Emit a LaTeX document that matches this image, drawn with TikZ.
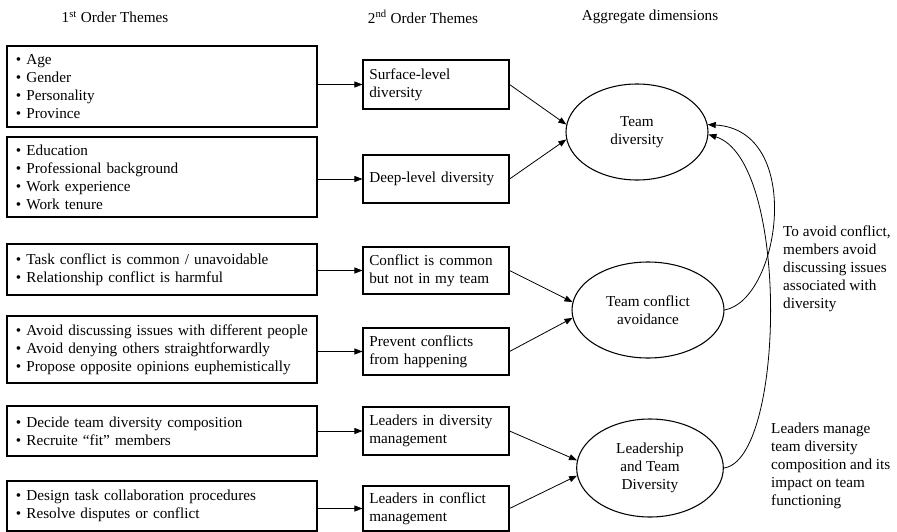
\documentclass[tikz,border=0pt]{standalone}
\usepackage{fontspec}
\setmainfont{Liberation Serif}
\usetikzlibrary{shapes.geometric,arrows.meta}
\newcommand{\bul}{\textbullet\ }

\begin{document}
\begin{tikzpicture}[x=0.75pt,y=-0.75pt,
    font=\fontsize{11.4}{13.5}\selectfont,
    theme/.style={draw,line width=0.8pt,text width=219pt,inner xsep=6.75pt,inner ysep=0pt,align=left},
    sub/.style={draw,line width=0.8pt,text width=100pt,inner xsep=4.75pt,inner ysep=0pt,align=left},
    dim/.style={draw,ellipse,line width=0.8pt,align=center,inner sep=0pt},
    arr/.style={-{Triangle[length=6pt,width=4.5pt]},line width=0.6pt}]
    \useasboundingbox (0,0) rectangle (897,532);
    \node (h1) at (115,17) {1\textsuperscript{st} Order Themes};
    \node (h2) at (423,17) {2\textsuperscript{nd} Order Themes};
    \node (h3) at (650,17) {Aggregate dimensions};

    \node[theme,minimum height=60.75pt] (b1) at (162,86.5) {\bul Age\\\bul Gender\\\bul Personality\\\bul Province};
    \node[theme,minimum height=60pt] (b2) at (162,177) {\bul Education\\\bul Professional background\\\bul Work experience\\\bul Work tenure};
    \node[theme,minimum height=38.25pt] (b3) at (162,269.5) {\bul Task conflict is common / unavoidable\\\bul Relationship conflict is harmful};
    \node[theme,minimum height=50.25pt] (b4) at (162,349.5) {\bul Avoid discussing issues with different people\\\bul Avoid denying others straightforwardly\\\bul Propose opposite opinions euphemistically};
    \node[theme,minimum height=37.5pt] (b5) at (162,431) {\bul Decide team diversity composition\\\bul Recruite ``fit'' members};
    \node[theme,minimum height=37.5pt] (b6) at (162,506) {\bul Design task collaboration procedures\\\bul Resolve disputes or conflict};

    \node[sub,minimum height=36.75pt] (s1) at (436,84.5) {Surface-level\\diversity};
    \node[sub,minimum height=36pt] (s2) at (436,179) {Deep-level diversity};
    \node[sub,minimum height=35.25pt] (s3) at (436,270.5) {Conflict is common\\but not in my team};
    \node[sub,minimum height=35.25pt] (s4) at (436,351.5) {Prevent conflicts\\from happening};
    \node[sub,minimum height=36pt] (s5) at (436,431) {Leaders in diversity\\management};
    \node[sub,minimum height=33.75pt] (s6) at (436,508.5) {Leaders in conflict\\management};

    \node[dim,minimum width=106.5pt,minimum height=72pt] (e1) at (637,132) {Team\\diversity};
    \node[dim,minimum width=114pt,minimum height=72pt] (e2) at (648,310) {Team conflict\\avoidance};
    \node[dim,minimum width=110pt,minimum height=73.5pt] (e3) at (650,468) {Leadership\\and Team\\Diversity};

    \node[anchor=west,align=left] (n1) at (778.5,269) {To avoid conflict,\\members avoid\\discussing issues\\associated with\\diversity};
    \node[anchor=west,align=left] (n2) at (766.5,466) {Leaders manage\\team diversity\\composition and its\\impact on team\\functioning};

    \foreach \i in {1,...,6}
        \draw[arr] (b\i.east |- s\i.west) -- (s\i.west);
    \draw[arr] (s1.east) -- (e1.174);
    \draw[arr] (s2.east) -- (e1.186);
    \draw[arr] (s3.east) -- (e2.174);
    \draw[arr] (s4.east) -- (e2.186);
    \draw[arr] (s5.east) -- (e3.174);
    \draw[arr] (s6.east) -- (e3.186);
    \draw[arr] (e2.east) .. controls (780,300) and (805,130) .. (e1.6);
    \draw[arr] (e3.east) .. controls (785,460) and (790,160) .. (e1.358);
\end{tikzpicture}
\end{document}
